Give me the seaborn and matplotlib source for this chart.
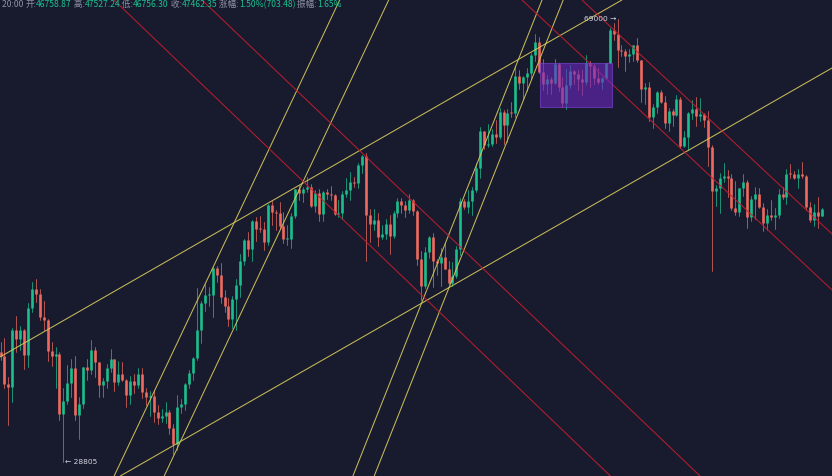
import numpy as np
import pandas as pd
import matplotlib
matplotlib.use("Agg")
import matplotlib.pyplot as plt
from matplotlib.patches import Rectangle
import seaborn as sns

# ---------------- data: BTC/USDT daily candles, 2021-06-06 .. 2022-01-01 ----------------
start_date = "2021-06-06"
first_open = 35796

closes = [
    35520, 33560, 33400, 37389, 36697, 37340, 35546, 39020, 40516, 40144,
    38350, 38093, 35820, 35484, 35601, 31676, 32505, 33676, 34664, 31595,
    32283, 34700, 34494, 35911, 35045, 33504, 33787, 34668, 35288, 33690,
    34220, 33863, 32875, 33815, 33502, 34259, 33086, 32730, 32820, 31780,
    31389, 31533, 31797, 30817, 29807, 32110, 32313, 33582, 34292, 35350,
    37337, 39406, 39995, 40008, 42235, 41626, 39857, 39139, 38207, 39723,
    40862, 42836, 44614, 43822, 46285, 45595, 45554, 44428, 47833, 47110,
    47014, 45902, 44696, 44705, 46760, 49339, 48905, 49321, 49546, 47706,
    48960, 46942, 49058, 48897, 48767, 46970, 47100, 48811, 49246, 49999,
    49915, 51757, 52663, 46863, 46049, 46395, 44842, 45174, 46025, 44940,
    47093, 48139, 47763, 47299, 48292, 47241, 43015, 40734, 43543, 44865,
    42810, 42670, 43160, 42147, 41026, 41524, 43824, 48141, 47634, 48200,
    49224, 51471, 55315, 53785, 53951, 54949, 54659, 57471, 55996, 57367,
    57347, 61672, 60875, 61528, 62009, 64280, 66001, 62193, 60688, 61286,
    60852, 63078, 60328, 58413, 60575, 62253, 61859, 61299, 60911, 63219,
    62896, 61395, 60937, 61470, 63273, 67525, 66947, 64882, 64774, 64122,
    64380, 65519, 63606, 60058, 60344, 56891, 58052, 59707, 58622, 56247,
    57541, 57138, 58960, 53726, 54721, 57274, 57776, 56950, 57184, 56480,
    53601, 49152, 49397, 50441, 50588, 50471, 47545, 47140, 49389, 50053,
    46702, 48343, 48864, 47632, 46131, 46834, 46681, 46914, 48889, 48588,
    50838, 50821, 50429, 50809, 50640, 47588, 46444, 47178, 46758.87, 47462.35,
]

highs = [
    36488, 36800, 34068, 37534, 38400, 37680, 37440, 39380, 41065, 41330,
    40527, 39560, 38200, 36457, 36137, 35750, 33298, 34881, 35298, 35500,
    32730, 34749, 35297, 36600, 36100, 35057, 33977, 34945, 35967, 35293,
    35118, 35059, 33909, 34100, 34262, 34666, 34679, 33340, 33114, 33185,
    32249, 31949, 32435, 31899, 31063, 32859, 32600, 33650, 34500, 35398,
    40550, 39543, 40900, 40640, 42316, 42414, 42599, 40459, 39780, 39969,
    41350, 43392, 44700, 45310, 46456, 46700, 46743, 46218, 47886, 48144,
    47372, 48054, 47160, 46000, 47033, 49382, 49757, 49500, 50500, 49876,
    49226, 49380, 49170, 49309, 49643, 48900, 48246, 49156, 50400, 51000,
    50559, 51900, 52781, 52920, 47400, 47399, 47033, 45987, 46460, 46880,
    47250, 48485, 48500, 48160, 48843, 48372, 47358, 43639, 44000, 44978,
    45200, 42966, 43950, 44350, 42787, 42690, 44132, 48495, 48336, 49228,
    49536, 51886, 55750, 55332, 56100, 55489, 56561, 57839, 57680, 57777,
    58532, 62933, 62350, 61720, 62695, 64486, 67000, 66639, 63732, 61747,
    61500, 63710, 63293, 61496, 62499, 62980, 62359, 62405, 62437, 64270,
    63500, 63086, 62595, 61560, 63286, 67789, 68524, 69000, 65600, 65000,
    64990, 65550, 66401, 63617, 60840, 60976, 58320, 59845, 60029, 59266,
    57875, 57735, 59398, 59150, 55280, 57445, 58865, 59176, 59053, 57375,
    57600, 53859, 49699, 50891, 51936, 51200, 50797, 50125, 49485, 50777,
    50189, 48700, 49500, 49436, 47995, 47392, 48300, 47537, 49328, 49576,
    51375, 51810, 51156, 51280, 52088, 50704, 48119, 47900, 48548, 47527.24,
]

lows = [
    35242, 33333, 31000, 32397, 35787, 35936, 34600, 34758, 38731, 39506,
    38116, 37365, 35129, 34804, 33336, 31251, 28805, 32287, 32700, 31275,
    30151, 32000, 33862, 34226, 34017, 32711, 32700, 33316, 34357, 33125,
    33532, 33777, 32077, 32261, 33005, 33307, 32658, 32203, 31550, 31133,
    31020, 31176, 31108, 30407, 29278, 29482, 31708, 31930, 33307, 33851,
    35205, 36383, 38772, 39200, 38313, 41064, 39422, 38690, 37642, 37508,
    37332, 39853, 42446, 43261, 42848, 44550, 45341, 43770, 44217, 45971,
    45500, 45660, 44376, 44203, 43956, 46622, 48273, 48050, 49029, 47600,
    47137, 46322, 46364, 48370, 48306, 46903, 46700, 46513, 48584, 48316,
    49533, 49450, 50969, 42843, 44412, 45513, 44132, 44722, 44742, 43370,
    44750, 46720, 47020, 46700, 47033, 46829, 42500, 39600, 40565, 43070,
    40675, 41646, 40750, 42098, 40888, 40753, 41410, 43283, 47430, 47088,
    46891, 49022, 50382, 53357, 53617, 53661, 54080, 54415, 53879, 54167,
    56818, 56850, 60150, 58963, 59844, 61322, 63481, 62000, 60000, 59562,
    59510, 60650, 59817, 58000, 57820, 60174, 60673, 59945, 59405, 60624,
    60382, 60677, 60721, 60050, 61322, 63273, 66222, 62822, 64100, 62278,
    63400, 63576, 63400, 58574, 58373, 56474, 55600, 57354, 58486, 55610,
    55317, 55837, 57000, 53500, 53610, 53256, 56666, 55875, 56458, 55777,
    51680, 42000, 47727, 47100, 50039, 48600, 47320, 46852, 46751, 48638,
    45672, 46290, 46547, 47511, 45456, 45500, 46406, 45558, 46630, 48421,
    47920, 50384, 50360, 49412, 50449, 47313, 46201, 45900, 45678, 46756.30,
]

# trend lines drawn on the chart: two anchors each, (day index, price)
support_lines = [
    ((-0.13, 35421), (152.54, 69880)),
    ((30.92, 28064), (211.58, 62643)),
    ((30.84, 28906), (85.11, 70238)),
    ((43.56, 28906), (97.58, 70238)),
    ((89.77, 28064), (137.79, 71637)),
    ((95.19, 28064), (143.18, 71637)),
]
resistance_lines = [
    ((28.88, 71637), (109.29, 39401)),
    ((51.27, 71637), (177.74, 28064)),
    ((147.96, 71637), (211.32, 45238)),
    ((132.70, 71637), (211.58, 40430)),
]
# consolidation range: day span and price span
range_days = (137.3, 155.6)
range_prices = (58040, 63230)

# ---------------- style ----------------
W, H, DPI = 832, 476, 100
BG = "#181a2e"
UP = "#1bbf8e"
DOWN = "#ee6a5f"
YELLOW = "#d9cc5c"
RED = "#c81e2d"
LABEL_GREY = "#8e92a3"
TEXT_LIGHT = "#d4d5de"

sns.set_theme(style="dark", rc={"axes.facecolor": BG, "figure.facecolor": BG})
plt.rcParams["font.family"] = ["Noto Sans CJK SC", "DejaVu Sans"]

n = len(closes)
day = np.arange(n)
close = np.asarray(closes, float)
opens = np.concatenate([[first_open], close[:-1]])
high = np.asarray(highs, float)
low = np.asarray(lows, float)
direction = np.where(close >= opens, "up", "down")

body_lo = np.minimum(opens, close)
body_hi = np.maximum(np.maximum(opens, close), body_lo * 1.0025)

wicks = pd.DataFrame({
    "day": np.repeat(day, 2),
    "price": np.column_stack([low, high]).ravel(),
    "dir": np.repeat(direction, 2),
})
bodies = pd.DataFrame({
    "day": np.repeat(day, 2),
    "price": np.column_stack([body_lo, body_hi]).ravel(),
    "dir": np.repeat(direction, 2),
})
palette = {"up": UP, "down": DOWN}

fig = plt.figure(figsize=(W / DPI, H / DPI), dpi=DPI)
ax = fig.add_axes([0, 0, 1, 1])

sns.lineplot(data=wicks, x="day", y="price", units="day", estimator=None,
             hue="dir", palette=palette, sort=False, legend=False,
             linewidth=0.6, alpha=0.85, ax=ax)
sns.lineplot(data=bodies, x="day", y="price", units="day", estimator=None,
             hue="dir", palette=palette, sort=False, legend=False,
             linewidth=1.9, solid_capstyle="butt", ax=ax)

ax.set_yscale("log")
ax.set_xlim(-0.13, 211.58)
ax.set_ylim(28008, 71637)
ax.set_axis_off()

for p1, p2 in support_lines:
    ax.axline(p1, p2, color=YELLOW, linewidth=0.75, alpha=0.9, zorder=4)
for p1, p2 in resistance_lines:
    ax.axline(p1, p2, color=RED, linewidth=0.75, alpha=0.9, zorder=4)

ax.add_patch(Rectangle((range_days[0], range_prices[0]),
                       range_days[1] - range_days[0],
                       range_prices[1] - range_prices[0],
                       facecolor="#6d29c2", edgecolor="#8446dc",
                       linewidth=0.8, alpha=0.6, zorder=5))

# extreme price markers
i_hi = int(np.argmax(high))
i_lo = int(np.argmin(low))
ax.annotate(f"{high[i_hi]:.0f} \u2192", xy=(i_hi, high[i_hi]), xytext=(-1.0, 0),
            textcoords="offset points", ha="right", va="center",
            fontsize=5.4, color=TEXT_LIGHT, family=["DejaVu Sans"], zorder=6)
ax.annotate(f"\u2190 {low[i_lo]:.0f}", xy=(i_lo, low[i_lo]), xytext=(1.5, 0),
            textcoords="offset points", ha="left", va="center",
            fontsize=5.4, color=TEXT_LIGHT, family=["DejaVu Sans"], zorder=6)

# header line for the latest candle
o_l, h_l, l_l, c_l = opens[-1], high[-1], low[-1], close[-1]
chg = c_l - o_l
pieces = [
    ("20:00 ", LABEL_GREY),
    ("开:", LABEL_GREY), (f"{o_l:.2f}", UP),
    (" 高:", LABEL_GREY), (f"{h_l:.2f}", UP),
    (" 低:", LABEL_GREY), (f"{l_l:.2f}", UP),
    (" 收:", LABEL_GREY), (f"{c_l:.2f}", UP),
    (" 涨幅:", LABEL_GREY), (f"{chg / o_l * 100:.2f}%({chg:.2f})", UP),
    (" 振幅:", LABEL_GREY), (f"{(h_l - l_l) / o_l * 100:.2f}%", UP),
]
renderer = fig.canvas.get_renderer()
texts, widths = [], []
for s, col in pieces:
    t = fig.text(0, 1 - 4.5 / H, s, color=col, fontsize=6.2, va="center", ha="left",
                 family=["Noto Sans CJK SC", "DejaVu Sans"])
    texts.append(t)
    widths.append(t.get_window_extent(renderer=renderer).width)
offsets = np.concatenate([[0], np.cumsum(widths)[:-1]])
shift = 2.0
for t, off in zip(texts, offsets):
    t.set_x((off + shift) / W)

fig.savefig("out.png", dpi=DPI, facecolor=BG)
